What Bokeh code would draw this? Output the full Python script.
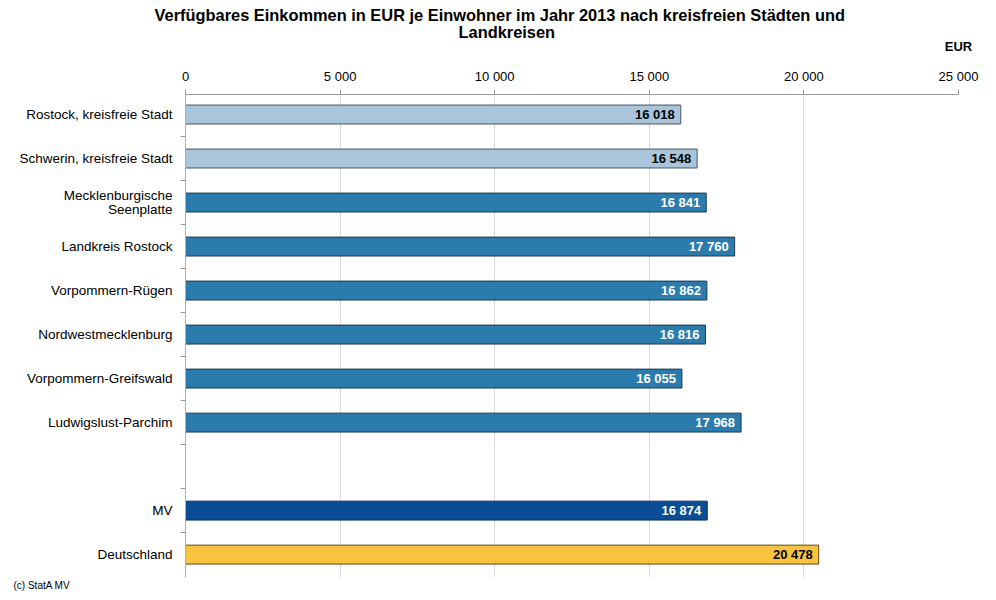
from bokeh.plotting import figure
from bokeh.models import ColumnDataSource, Range1d, FixedTicker, LinearAxis, Title
from bokeh.core.properties import value
from bokeh.embed import file_html
from bokeh.resources import INLINE

# ---- data ----
categories = ["Rostock, kreisfreie Stadt", "Schwerin, kreisfreie Stadt",
              "Mecklenburgische\nSeenplatte", "Landkreis Rostock", "Vorpommern-Rügen",
              "Nordwestmecklenburg", "Vorpommern-Greifswald", "Ludwigslust-Parchim",
              "MV", "Deutschland"]
values = [16018, 16548, 16841, 17760, 16862, 16816, 16055, 17968, 16874, 20478]
groups = ["kreisfrei", "kreisfrei", "kreis", "kreis", "kreis", "kreis", "kreis", "kreis", "land", "bund"]
x_ticks = [0, 5000, 10000, 15000, 20000, 25000]
x_tick_labels = ["0", "5 000", "10 000", "15 000", "20 000", "25 000"]
title_lines = ["Verfügbares Einkommen  in EUR je Einwohner im Jahr 2013 nach kreisfreien Städten und",
               "Landkreisen"]
unit = "EUR"
source_note = "(c) StatA MV"

# ---- styles ----
fill = {"kreisfrei": "#a8c5dc", "kreis": "#2c7bad", "land": "#0b4c96", "bund": "#f8c33f"}
edge = {"kreisfrei": "#4a5560", "kreis": "#1c3a52", "land": "#0a2f5e", "bund": "#5a4a1a"}
txtc = {"kreisfrei": "#000000", "kreis": "#ffffff", "land": "#ffffff", "bund": "#000000"}

# slot positions: 8 districts, one empty slot, then MV and Deutschland
pos = list(range(8)) + [9, 10]

src = ColumnDataSource(dict(
    y=pos, v=values,
    lab=[f"{v:,}".replace(",", " ") for v in values],
    fill=[fill[g] for g in groups],
    edge=[edge[g] for g in groups],
    tc=[txtc[g] for g in groups],
))

FONT = "Liberation Sans"

p = figure(width=980, height=592, output_backend="svg", toolbar_location=None, title=None,
           x_range=Range1d(0, 25000), y_range=Range1d(10.52, -0.455),
           x_axis_location=None, y_axis_location=None,
           min_border_left=185, min_border_right=22, min_border_top=94, min_border_bottom=15)
p.outline_line_color = None
p.background_fill_color = "white"
p.border_fill_color = "white"

# top x axis
xa = LinearAxis(ticker=FixedTicker(ticks=x_ticks),
                major_label_overrides={t: l for t, l in zip(x_ticks, x_tick_labels)})
xa.axis_line_color = "#9a9a9a"
xa.major_tick_line_color = "#9a9a9a"
xa.major_tick_out = 5
xa.major_tick_in = 0
xa.minor_tick_line_color = None
xa.major_label_text_font = FONT
xa.major_label_text_font_size = "13px"
xa.major_label_text_color = "#000000"
xa.major_label_standoff = 6
xa.axis_label = unit
xa.axis_label_align = "end"
xa.axis_label_text_font = FONT
xa.axis_label_text_font_size = "13px"
xa.axis_label_text_font_style = "bold"
xa.axis_label_text_color = "#000000"
xa.axis_label_standoff = 12
p.add_layout(xa, "above")

# title rows (added after the axis, so they stack above it)
p.add_layout(Title(text=title_lines[1], align="left", offset=273, text_font=FONT,
                   text_font_size="16.4px", text_font_style="bold", text_color="#000000",
                   standoff=-11), "above")
p.add_layout(Title(text=title_lines[0], align="left", offset=-31, text_font=FONT,
                   text_font_size="16.4px", text_font_style="bold", text_color="#000000",
                   standoff=6), "above")

# left y axis
ya = LinearAxis(ticker=FixedTicker(ticks=pos, minor_ticks=[i + 0.5 for i in range(0, 10)]),
                major_label_overrides={y: c for y, c in zip(pos, categories)})
ya.axis_line_color = "#b0b0b0"
ya.major_tick_line_color = None
ya.minor_tick_line_color = "#9a9a9a"
ya.minor_tick_out = 5
ya.minor_tick_in = 0
ya.major_label_text_font = FONT
ya.major_label_text_font_size = "13.5px"
ya.major_label_text_line_height = 0.95
ya.major_label_text_color = "#000000"
ya.major_label_standoff = 7
p.add_layout(ya, "left")

p.xgrid.ticker = FixedTicker(ticks=x_ticks)
p.xgrid.grid_line_color = "#d9d9d9"
p.ygrid.grid_line_color = None

p.hbar(y="y", left=0, right="v", height=0.43, source=src,
       fill_color="fill", line_color="edge", line_width=1)

p.text(x="v", y="y", text="lab", source=src, x_offset=-6, text_align="right",
       text_baseline="middle", text_font=value(FONT), text_font_size="13px",
       text_font_style="bold", text_color="tc")

# source note
p.add_layout(Title(text=source_note, align="left", offset=-172, text_font=FONT,
                   text_font_size="10px", text_font_style="normal", text_color="#000000",
                   standoff=0), "below")

open("out.html", "w").write(file_html(p, INLINE))
